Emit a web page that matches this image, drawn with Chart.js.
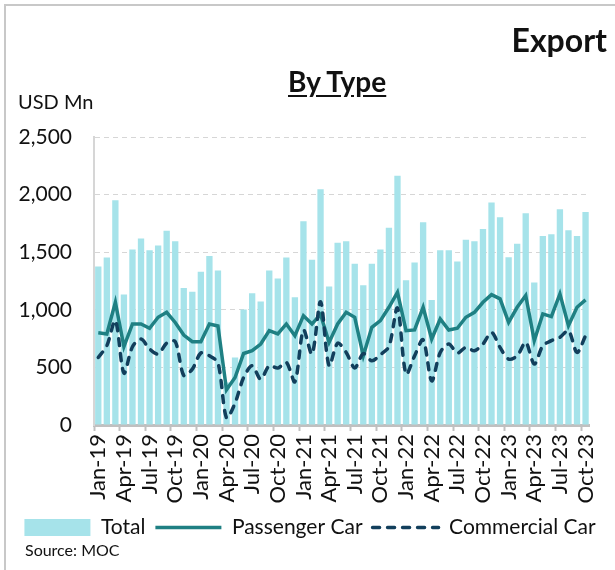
<!DOCTYPE html>
<html>
<head>
<meta charset="utf-8">
<script src="https://cdn.jsdelivr.net/npm/chart.js@4.4.1/dist/chart.umd.min.js"></script>
<style>
  body { margin: 0; background: #fff; font-family: Lato, "Open Sans", sans-serif; color: #111; }
  .frame { position: relative; width: 615px; height: 570px; overflow: hidden; }
  .frame::before { content: ""; position: absolute; left: 4px; top: 4px; right: -10px; bottom: -10px;
    border-left: 2px solid #c8c8c8; border-top: 2px solid #c8c8c8; }
  canvas { position: absolute; left: 0; top: 0; }
  .txt { position: absolute; white-space: nowrap; }
  #export { right: 8px; top: 20px; font-size: 32px; font-weight: bold; }
  #byType { left: 288px; top: 64px; font-size: 28px; font-weight: bold; text-decoration: underline; text-underline-offset: 3px; }
  #unit { left: 18px; top: 89px; font-size: 20px; }
  #source { left: 25px; top: 540px; font-size: 16px; }
</style>
</head>
<body>
<div class="frame">
  <canvas id="chart" width="615" height="570"></canvas>
  <div class="txt" id="export">Export</div>
  <div class="txt" id="byType">By Type</div>
  <div class="txt" id="unit">USD Mn</div>
  <div class="txt" id="source">Source: MOC</div>
</div>
<script>
// ---------------------- DATA ----------------------
const months = [
  "Jan-19","Feb-19","Mar-19","Apr-19","May-19","Jun-19","Jul-19","Aug-19","Sep-19","Oct-19","Nov-19","Dec-19",
  "Jan-20","Feb-20","Mar-20","Apr-20","May-20","Jun-20","Jul-20","Aug-20","Sep-20","Oct-20","Nov-20","Dec-20",
  "Jan-21","Feb-21","Mar-21","Apr-21","May-21","Jun-21","Jul-21","Aug-21","Sep-21","Oct-21","Nov-21","Dec-21",
  "Jan-22","Feb-22","Mar-22","Apr-22","May-22","Jun-22","Jul-22","Aug-22","Sep-22","Oct-22","Nov-22","Dec-22",
  "Jan-23","Feb-23","Mar-23","Apr-23","May-23","Jun-23","Jul-23","Aug-23","Sep-23","Oct-23"
];

const totalValues = [
  1376, 1455, 1951, 1132, 1524, 1620, 1516, 1559, 1687, 1594, 1190, 1156,
  1330, 1466, 1341, 370, 586, 1002, 1144, 1071, 1341, 1272, 1455, 1109,
  1768, 1434, 2047, 1202, 1582, 1594, 1400, 1213, 1400, 1524, 1713, 2163,
  1257, 1411, 1759, 1086, 1516, 1516, 1420, 1609, 1594, 1701, 1931, 1803,
  1457, 1574, 1838, 1237, 1640, 1655, 1873, 1690, 1640, 1849
];

const passengerValues = [
  800, 790, 1065, 680, 877, 877, 840, 935, 978, 890, 781, 723,
  723, 877, 860, 305, 412, 621, 645, 703, 819, 790, 877, 775,
  949, 877, 960, 717, 877, 978, 935, 601, 848, 906, 1022, 1152,
  819, 825, 1022, 746, 920, 825, 840, 935, 978, 1065, 1132, 1095,
  891, 1022, 1124, 732, 964, 941, 1138, 862, 1022, 1086
];

const commercialValues = [
  586, 688, 906, 450, 680, 746, 660, 616, 710, 725, 430, 485,
  625, 601, 540, 62, 190, 412, 514, 398, 514, 494, 543, 375,
  825, 615, 1070, 514, 710, 630, 495, 620, 557, 610, 680, 1015,
  441, 600, 740, 383, 630, 703, 625, 673, 645, 703, 804, 673,
  572, 600, 717, 529, 688, 732, 761, 819, 630, 775
];

const yTicks = [0, 500, 1000, 1500, 2000, 2500];

// ---------------------- CHART ----------------------
const font = "Lato";

// legend entries: filled box for bars, plain / dashed stroke for lines
function legendItems(chart) {
  return chart.data.datasets.map((ds, i) => ({
    text: ds.label,
    fillStyle: ds.backgroundColor,
    strokeStyle: ds.borderColor,
    lineWidth: ds.type === "bar" ? 0 : ds.borderWidth,
    lineDash: ds.borderDash || [],
    lineCap: ds.borderCapStyle || "butt",
    pointStyle: ds.pointStyle,
    fontColor: "#111",
    hidden: false,
    datasetIndex: i,
  }));
}

new Chart(document.getElementById("chart"), {
  data: {
    labels: months,
    datasets: [
      {
        type: "bar",
        label: "Total",
        data: totalValues,
        backgroundColor: "#a6e3ea",
        borderWidth: 0,
        categoryPercentage: 1,
        barPercentage: 0.74,
        pointStyle: "rect",
        order: 3,
      },
      {
        type: "line",
        label: "Passenger Car",
        data: passengerValues,
        borderColor: "#1f8083",
        backgroundColor: "#1f8083",
        borderWidth: 3.5,
        pointRadius: 0,
        tension: 0,
        pointStyle: "line",
        order: 2,
      },
      {
        type: "line",
        label: "Commercial Car",
        data: commercialValues,
        borderColor: "#123f5c",
        backgroundColor: "#123f5c",
        borderWidth: 3.5,
        borderDash: [7, 8],
        borderCapStyle: "round",
        pointRadius: 0,
        tension: 0.3,
        pointStyle: "line",
        order: 1,
      },
    ],
  },
  options: {
    responsive: false,
    animation: false,
    layout: { padding: { top: 137, left: 10, right: 5, bottom: 22 } },
    plugins: {
      tooltip: { enabled: false },
      title: { display: false },
      legend: {
        position: "bottom",
        labels: {
          usePointStyle: true,
          pointStyleWidth: 66,
          boxHeight: 17,
          padding: 10,
          color: "#111",
          font: { family: font, size: 21 },
          generateLabels: legendItems,
        },
      },
    },
    scales: {
      x: {
        type: "category",
        offset: true,
        afterFit: (s) => { s.height = 82; },
        grid: {
          offset: true,
          drawOnChartArea: false,
          tickLength: 6,
          tickWidth: 2,
          tickColor: (ctx) => (ctx.index % 3 === 0 ? "#c0c0c0" : "rgba(0,0,0,0)"),
        },
        border: { color: "#c0c0c0", width: 3 },
        ticks: {
          autoSkip: false,
          minRotation: 90,
          maxRotation: 90,
          padding: 3,
          color: "#111",
          font: { family: font, size: 22 },
          callback: (v, i) => (i % 3 === 0 ? months[i] : ""),
        },
      },
      y: {
        min: yTicks[0],
        max: yTicks[yTicks.length - 1],
        afterFit: (s) => { s.width = 84; },
        afterBuildTicks: (s) => { s.ticks = yTicks.map((v) => ({ value: v })); },
        grid: { color: "#d6d6d6", lineWidth: 1, drawTicks: false },
        border: { color: "#d6d6d6", width: 2, dash: [5, 4] },
        ticks: {
          padding: 22,
          color: "#111",
          font: { family: font, size: 21 },
          callback: (v) => v.toLocaleString("en-US"),
        },
      },
    },
  },
});
</script>
</body>
</html>
